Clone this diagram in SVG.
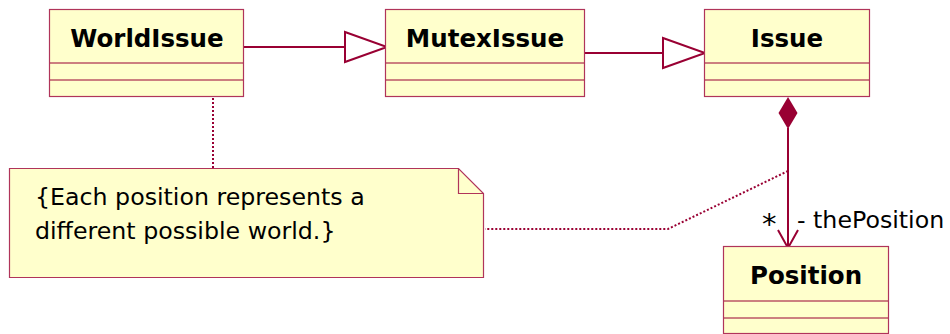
<svg xmlns="http://www.w3.org/2000/svg" width="950" height="334" viewBox="0 0 950 334">
  <style>
    .box { fill: #ffffcc; stroke: #b0345a; stroke-width: 1.2; }
    .div { stroke: #990033; stroke-width: 1; }
    .name { font-family: "DejaVu Sans", Verdana, sans-serif; font-weight: bold; font-size: 24.5px; fill: #000; text-anchor: middle; }
    .txt { font-family: "DejaVu Sans", Verdana, sans-serif; font-size: 23.7px; fill: #000; }
    .line { stroke: #990033; stroke-width: 2; fill: none; }
    .dot { stroke: #990033; stroke-width: 2; fill: none; stroke-dasharray: 2 2; }
    .gen { fill: #fff; stroke: #990033; stroke-width: 2; }
  </style>

  <g id="connectors">
    <!-- generalizations -->
    <line class="line" x1="243" y1="47" x2="345" y2="47"/>
    <polygon class="gen" points="345,32 387,47 345,62"/>
    <line class="line" x1="585" y1="53" x2="663" y2="53"/>
    <polygon class="gen" points="663,38 705,53 663,68"/>
    <!-- composition Issue -> Position -->
    <polygon points="788,97 797.5,113 788,129 778.5,113" fill="#990033"/>
    <line class="line" x1="788" y1="128" x2="788" y2="248"/>
    <polyline class="line" points="778,230 788,248 798,230"/>
    <text class="txt" x="762" y="234" style="font-size:29px">*</text>
    <text class="txt" x="797" y="228">- thePosition</text>
    <!-- note anchors -->
    <line class="dot" x1="213" y1="98" x2="213" y2="168"/>
    <polyline class="dot" points="788,171 668,229 485,229"/>
  </g>

  <g id="WorldIssue">
    <rect class="box" x="49.5" y="9.5" width="194" height="87"/>
    <line class="div" x1="50" y1="63" x2="243" y2="63"/>
    <line class="div" x1="50" y1="80" x2="243" y2="80"/>
    <text class="name" x="147" y="47">WorldIssue</text>
  </g>

  <g id="MutexIssue">
    <rect class="box" x="385.5" y="9.5" width="199" height="87"/>
    <line class="div" x1="386" y1="63" x2="584" y2="63"/>
    <line class="div" x1="386" y1="80" x2="584" y2="80"/>
    <text class="name" x="485" y="47">MutexIssue</text>
  </g>

  <g id="Issue">
    <rect class="box" x="704.5" y="9.5" width="165" height="87"/>
    <line class="div" x1="705" y1="63" x2="869" y2="63"/>
    <line class="div" x1="705" y1="80" x2="869" y2="80"/>
    <text class="name" x="787" y="47">Issue</text>
  </g>

  <g id="Position">
    <rect class="box" x="723.5" y="246.5" width="165" height="87"/>
    <line class="div" x1="724" y1="301" x2="888" y2="301"/>
    <line class="div" x1="724" y1="318" x2="888" y2="318"/>
    <text class="name" x="806" y="284">Position</text>
  </g>

  <g id="note">
    <path class="box" d="M9.5,168.5 H458.5 L483.5,193.5 V277.5 H9.5 Z"/>
    <path d="M458.5,168.5 V193.5 H483.5" fill="none" stroke="#b0345a" stroke-width="1.2"/>
    <text class="txt" x="35" y="205">{Each position represents a</text>
    <text class="txt" x="35" y="239">different possible world.}</text>
  </g>
</svg>
